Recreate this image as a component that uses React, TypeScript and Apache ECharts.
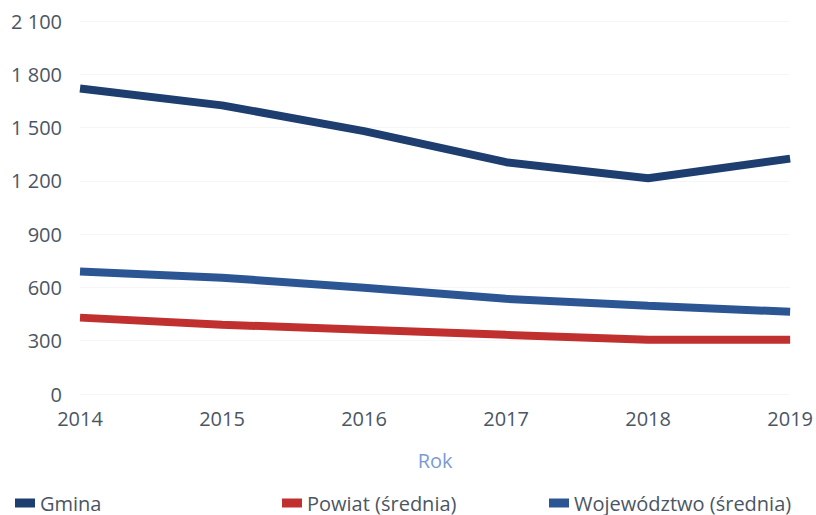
import React, { useEffect, useRef } from "react";
import * as echarts from "echarts";

const years = ["2014", "2015", "2016", "2017", "2018", "2019"];
const gmina = [1720, 1625, 1480, 1305, 1215, 1325];
const powiat = [430, 390, 362, 333, 305, 305];
const wojewodztwo = [690, 655, 598, 536, 497, 463];

const FONT = "'Open Sans', sans-serif";
const TEXT = "#4b5663";

export default function App() {
  const ref = useRef<HTMLDivElement>(null);
  useEffect(() => {
    const chart = echarts.init(ref.current!, null, { renderer: "svg" });
    const legendBase = {
      top: 493,
      padding: 0,
      icon: "rect",
      itemWidth: 20,
      itemHeight: 9,
      itemGap: 6,
      textStyle: { color: TEXT, fontSize: 20, lineHeight: 20, fontFamily: FONT },
      selectedMode: false,
    };
    chart.setOption({
      animation: false,
      backgroundColor: "#ffffff",
      grid: { left: 80, right: 24, top: 21, bottom: 121, containLabel: false },
      legend: [
        { ...legendBase, left: 15, data: ["Gmina"] },
        { ...legendBase, left: 282, data: ["Powiat (średnia)"] },
        { ...legendBase, left: 549, data: ["Województwo (średnia)"] },
      ],
      xAxis: {
        type: "category",
        data: years,
        boundaryGap: false,
        name: "Rok",
        nameLocation: "middle",
        nameGap: 56,
        nameTextStyle: { color: "#7b9bd0", fontSize: 20, fontFamily: FONT },
        axisLine: { show: false },
        axisTick: { show: false },
        axisLabel: { color: TEXT, fontSize: 20, fontFamily: FONT, margin: 14 },
      },
      yAxis: {
        type: "value",
        min: 0,
        max: 2100,
        interval: 300,
        axisLine: { show: false },
        axisTick: { show: false },
        splitLine: { show: true, lineStyle: { color: "#f6f6f8", width: 1 } },
        axisLabel: {
          color: TEXT,
          fontSize: 20,
          fontFamily: FONT,
          margin: 18,
          formatter: (v: number) => String(v).replace(/\B(?=(\d{3})+(?!\d))/g, " "),
        },
      },
      series: [
        {
          name: "Gmina",
          type: "line",
          data: gmina,
          symbol: "none",
          color: "#1d3e6e",
          lineStyle: { width: 8, color: "#1d3e6e" },
        },
        {
          name: "Powiat (średnia)",
          type: "line",
          data: powiat,
          symbol: "none",
          color: "#c0302e",
          lineStyle: { width: 8, color: "#c0302e" },
        },
        {
          name: "Województwo (średnia)",
          type: "line",
          data: wojewodztwo,
          symbol: "none",
          color: "#2c5594",
          lineStyle: { width: 8, color: "#2c5594" },
        },
      ],
    });
    return () => chart.dispose();
  }, []);
  return (
    <div
      ref={ref}
      style={{ position: "absolute", left: 0, top: 0, width: 816, height: 515 }}
    />
  );
}
